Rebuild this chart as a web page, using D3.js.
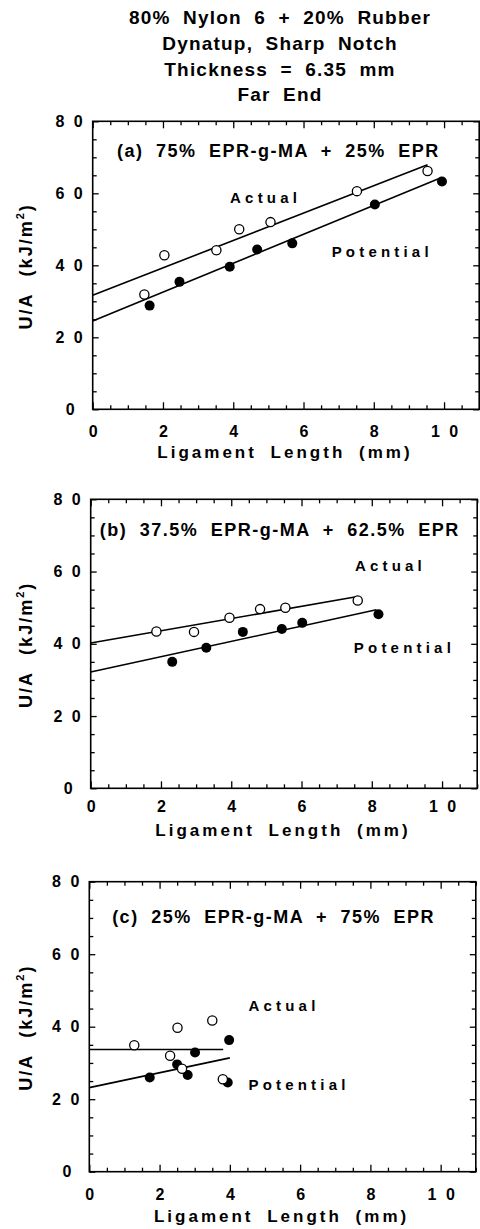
<!DOCTYPE html>
<html><head><meta charset="utf-8">
<script src="https://cdn.jsdelivr.net/npm/d3@7"></script>
<style>
body{margin:0;background:#fff}
svg text{font-family:"Liberation Sans",Arial,Helvetica,sans-serif;font-weight:bold;fill:#000}
</style></head>
<body><svg id="chart" width="480" height="1229"></svg>
<script>
// ---------- data ----------
const titleLines = ["80% Nylon 6 + 20% Rubber", "Dynatup, Sharp Notch", "Thickness = 6.35 mm", "Far End"];
const panelTitles = ["(a) 75% EPR-g-MA + 25% EPR", "(b) 37.5% EPR-g-MA + 62.5% EPR", "(c) 25% EPR-g-MA + 75% EPR"];
const xTickValues = [0, 2, 4, 6, 8, 10];
const yTickValues = [0, 20, 40, 60, 80];
const xLabel = "Ligament Length (mm)";
const seriesNames = ["Actual", "Potential"];

// panel (a)
const actualAX = [1.47, 2.04, 3.52, 4.17, 5.06, 7.52, 9.53];
const actualAY = [31.9, 42.8, 44.2, 50.0, 52.0, 60.6, 66.2];
const potentialAX = [1.62, 2.47, 3.90, 4.68, 5.68, 8.03, 9.94];
const potentialAY = [28.8, 35.4, 39.6, 44.4, 46.1, 56.9, 63.3];
const fitActualA = [[0, 31.7], [9.53, 67.9]];
const fitPotentialA = [[0, 24.5], [9.93, 64.4]];

// panel (b)
const actualBX = [1.87, 2.94, 3.95, 4.82, 5.54, 7.60];
const actualBY = [43.4, 43.3, 47.2, 49.6, 50.0, 52.0];
const potentialBX = [2.32, 3.29, 4.33, 5.44, 6.02, 8.19];
const potentialBY = [35.0, 38.9, 43.3, 44.1, 45.8, 48.2];
const fitActualB = [[0, 40.2], [7.60, 53.1]];
const fitPotentialB = [[0, 32.2], [8.13, 49.4]];

// panel (c)
const actualCX = [1.28, 2.51, 3.50, 2.30, 2.64, 3.80];
const actualCY = [34.9, 39.7, 41.7, 32.0, 28.4, 25.5];
const potentialCX = [1.72, 2.50, 2.80, 3.01, 3.98, 3.94];
const potentialCY = [26.0, 29.6, 26.7, 32.9, 36.3, 24.6];
const fitActualC = [[0, 33.7], [3.81, 33.7]];
const fitPotentialC = [[0, 23.2], [4.0, 31.4]];

// ---------- layout ----------
const layout = [
  {left: 92.7, top: 121.3, bottom: 409.3, xPad: 16, xLab: 48.5, title: [0.69, 70.2], act: [3.91, 57.4], pot: [6.80, 42.4]},
  {left: 90.7, top: 499.3, bottom: 788.3, xPad: 12, xLab: 47.5, title: [0.26, 69.8], act: [7.52, 60.2], pot: [7.49, 37.4]},
  {left: 89.3, top: 881.7, bottom: 1171.7, xPad: 17, xLab: 50, title: [0.65, 68.5], act: [4.53, 44.3], pot: [4.53, 22.5]}
];
const plotW = 386.5;

const panelData = [
  {ax: actualAX, ay: actualAY, px: potentialAX, py: potentialAY, fa: fitActualA, fp: fitPotentialA},
  {ax: actualBX, ay: actualBY, px: potentialBX, py: potentialBY, fa: fitActualB, fp: fitPotentialB},
  {ax: actualCX, ay: actualCY, px: potentialCX, py: potentialCY, fa: fitActualC, fp: fitPotentialC}
];

const svg = d3.select("#chart");

// main title
svg.append("g").selectAll("text").data(titleLines).join("text")
  .attr("x", 280)
  .attr("y", (d, i) => [24, 50, 76, 101][i])
  .attr("text-anchor", "middle")
  .style("font-size", "19px")
  .style("letter-spacing", "1.2px")
  .style("word-spacing", "6px")
  .text(d => d);

const spaced = d => String(d).split("").join(" ");

panelData.forEach((pd, i) => {
  const L = layout[i];
  const x = d3.scaleLinear().domain([0, 11]).range([L.left, L.left + plotW]);
  const y = d3.scaleLinear().domain([0, 80]).range([L.bottom, L.top]);
  const g = svg.append("g");
  const h = L.bottom - L.top;

  const minorX = d3.range(0, 11.01, 0.5).filter(v => v % 2 !== 0);
  const minorY = d3.range(0, 80.01, 5).filter(v => v % 20 !== 0);

  // inward ticks on four sides
  const tickGroup = (axis, tx, ty) => {
    const a = g.append("g").attr("transform", `translate(${tx},${ty})`).call(axis);
    a.select(".domain").remove();
    a.selectAll("line").attr("stroke", "#000").attr("stroke-width", 1.3);
  };
  tickGroup(d3.axisBottom(x).tickValues(xTickValues).tickSize(-7).tickFormat(""), 0, L.bottom);
  tickGroup(d3.axisBottom(x).tickValues(minorX).tickSize(-4).tickFormat(""), 0, L.bottom);
  tickGroup(d3.axisTop(x).tickValues(xTickValues).tickSize(-7).tickFormat(""), 0, L.top);
  tickGroup(d3.axisTop(x).tickValues(minorX).tickSize(-4).tickFormat(""), 0, L.top);
  tickGroup(d3.axisLeft(y).tickValues(yTickValues).tickSize(-6).tickFormat(""), L.left, 0);
  tickGroup(d3.axisLeft(y).tickValues(minorY).tickSize(-4).tickFormat(""), L.left, 0);
  tickGroup(d3.axisRight(y).tickValues(yTickValues).tickSize(-6).tickFormat(""), L.left + plotW, 0);
  tickGroup(d3.axisRight(y).tickValues(minorY).tickSize(-4).tickFormat(""), L.left + plotW, 0);

  // tick labels
  const xl = g.append("g").attr("transform", `translate(0,${L.bottom})`)
    .call(d3.axisBottom(x).tickValues(xTickValues).tickSize(0).tickPadding(L.xPad).tickFormat(spaced));
  xl.select(".domain").remove();
  xl.selectAll("text").attr("fill", "#000").style("font-size", "16px").style("word-spacing", "5px")
    .style("font-family", '"Liberation Sans",Arial,sans-serif').style("font-weight", "bold");

  const yl = g.append("g").attr("transform", `translate(${L.left},0)`)
    .call(d3.axisLeft(y).tickValues(yTickValues).tickSize(0).tickPadding(10).tickFormat(spaced));
  yl.select(".domain").remove();
  yl.selectAll("text").attr("fill", "#000").style("font-size", "16px").style("word-spacing", "5px")
    .style("font-family", '"Liberation Sans",Arial,sans-serif').style("font-weight", "bold")
    .attr("dx", d => d === 0 ? -8 : 0);

  // frame
  g.append("rect").attr("x", L.left).attr("y", L.top).attr("width", plotW).attr("height", h)
    .attr("fill", "none").attr("stroke", "#000").attr("stroke-width", 1.6);

  // fit lines
  const line = d3.line().x(d => x(d[0])).y(d => y(d[1]));
  [pd.fa, pd.fp].forEach(f => {
    g.append("path").attr("d", line(f)).attr("fill", "none").attr("stroke", "#000").attr("stroke-width", 1.6);
  });

  // points: filled first, open on top
  g.append("g").selectAll("circle").data(pd.px.map((v, k) => [v, pd.py[k]])).join("circle")
    .attr("cx", d => x(d[0])).attr("cy", d => y(d[1])).attr("r", 5).attr("fill", "#000");
  g.append("g").selectAll("circle").data(pd.ax.map((v, k) => [v, pd.ay[k]])).join("circle")
    .attr("cx", d => x(d[0])).attr("cy", d => y(d[1])).attr("r", 4.6)
    .attr("fill", "#fff").attr("stroke", "#000").attr("stroke-width", 1.3);

  // panel title
  g.append("text").attr("x", x(L.title[0])).attr("y", y(L.title[1]))
    .style("font-size", "18px").style("letter-spacing", "1.5px").style("word-spacing", "6px")
    .text(panelTitles[i]);

  // series labels
  g.append("text").attr("x", x(L.act[0])).attr("y", y(L.act[1]))
    .style("font-size", "15px").style("letter-spacing", "4.2px").text(seriesNames[0]);
  g.append("text").attr("x", x(L.pot[0])).attr("y", y(L.pot[1]))
    .style("font-size", "15px").style("letter-spacing", "4.2px").text(seriesNames[1]);

  // axis labels
  g.append("text").attr("x", L.left + plotW / 2 - 1).attr("y", L.bottom + L.xLab)
    .attr("text-anchor", "middle").style("font-size", "17px").style("letter-spacing", "3px").style("word-spacing", "6px")
    .text(xLabel);

  const yt = g.append("text")
    .attr("transform", `translate(32,${(L.top + L.bottom) / 2 + 1}) rotate(-90)`)
    .attr("text-anchor", "middle").style("font-size", "18px").style("letter-spacing", "2px");
  yt.append("tspan").text("U/A");
  yt.append("tspan").attr("dx", 16).text("(kJ/m");
  yt.append("tspan").attr("dy", -8).style("font-size", "11px").text("2");
  yt.append("tspan").attr("dy", 8).text(")");
});
</script></body></html>
